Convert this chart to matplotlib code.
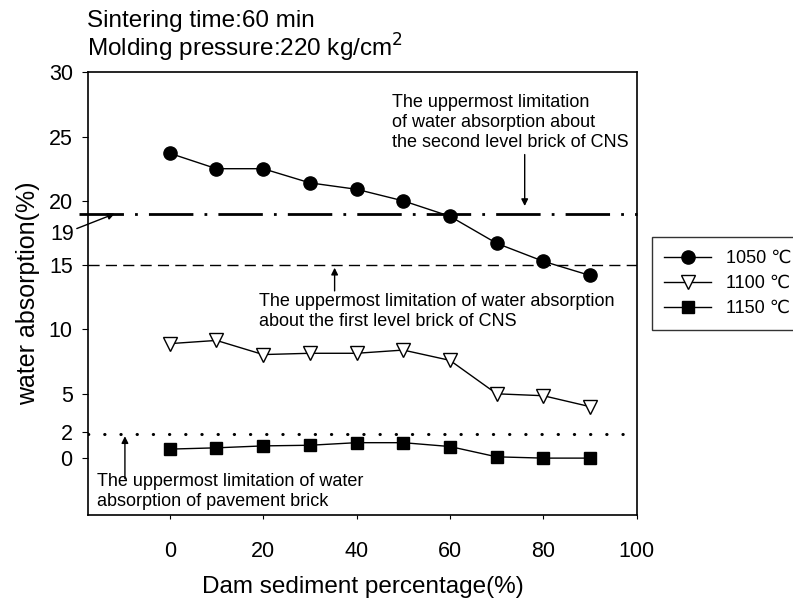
import matplotlib
matplotlib.use('Agg')
import matplotlib.pyplot as plt

plt.rcParams['font.family'] = ['Liberation Sans', 'DejaVu Sans']

# data
sediment = [0, 10, 20, 30, 40, 50, 60, 70, 80, 90]
wa_1050 = [23.7, 22.5, 22.5, 21.4, 20.9, 20.0, 18.8, 16.7, 15.3, 14.2]
wa_1100 = [8.9, 9.15, 8.05, 8.15, 8.15, 8.4, 7.6, 5.0, 4.85, 4.0]
wa_1150 = [0.7, 0.8, 0.95, 1.0, 1.2, 1.2, 0.9, 0.1, 0.0, 0.0]

limit_second = 19
limit_first = 15
limit_pavement = 1.9

ytick_vals = [0, 2, 5, 10, 15, 20, 25, 30]
ytick_labels = ['0', '2', '5', '10', '15', '20', '25', '30']
xtick_vals = [0, 20, 40, 60, 80, 100]

fig = plt.figure(figsize=(7.93, 6.02), dpi=100)
ax = fig.add_axes([0.111, 0.145, 0.692, 0.735])

ax.plot(sediment, wa_1050, '-', color='black', lw=1, marker='o', ms=9.5,
        mfc='black', mec='black', label='1050 ℃')
ax.plot(sediment, wa_1100, '-', color='black', lw=1, marker='v', ms=10,
        mfc='white', mec='black', label='1100 ℃')
ax.plot(sediment, wa_1150, '-', color='black', lw=1, marker='s', ms=8,
        mfc='black', mec='black', label='1150 ℃')

# limitation lines
ax.plot([-19.5, 100], [limit_second, limit_second], color='black', lw=2,
        linestyle=(0, (16, 4, 1, 4)), clip_on=False)
ax.axhline(limit_first, color='black', lw=1, linestyle=(0, (8, 4.5)))
ax.axhline(limit_pavement, color='black', lw=2.2, linestyle=(0, (0.1, 5.2)),
           dash_capstyle='round')

ax.set_xlim(-17.5, 100)
ax.set_ylim(-4.4, 30)
ax.set_xticks(xtick_vals)
ax.set_yticks(ytick_vals)
ax.set_yticklabels(ytick_labels)
ax.tick_params(axis='x', labelsize=15.5, pad=16, length=3, direction='out')
ax.tick_params(axis='y', labelsize=15.5, pad=7, length=4, direction='out')
for s in ax.spines.values():
    s.set_linewidth(1.2)

ax.set_xlabel('Dam sediment percentage(%)', fontsize=17.5, labelpad=10)
ax.set_ylabel('water absorption(%)', fontsize=18, labelpad=6)

fig.text(0.11, 0.965, 'Sintering time:60 min', fontsize=17.5, va='center')
fig.text(0.11, 0.92, 'Molding pressure:220 kg/cm$^2$', fontsize=17.5, va='center')

# "19" label with arrow
ax.annotate('19', xy=(-11.8, 19.0), xytext=(-20.5, 17.4), fontsize=15.5,
            ha='right', va='center', annotation_clip=False,
            arrowprops=dict(arrowstyle='-|>', color='black', lw=1,
                            mutation_scale=10, shrinkA=0, shrinkB=0))

arrow_kw = dict(arrowstyle='-|>', color='black', lw=1, mutation_scale=10,
                shrinkA=0, shrinkB=0)
ax.annotate('', xy=(76, 19.6), xytext=(76, 23.6), arrowprops=arrow_kw)
ax.text(47.5, 26.1, 'The uppermost limitation\nof water absorption about\n'
        'the second level brick of CNS', fontsize=13, ha='left', va='center',
        linespacing=1.2)

ax.annotate('', xy=(35.3, 14.8), xytext=(35.3, 13.0), arrowprops=arrow_kw)
ax.text(19.2, 11.4, 'The uppermost limitation of water absorption\n'
        'about the first level brick of CNS', fontsize=13, ha='left',
        va='center', linespacing=1.2)

ax.annotate('', xy=(-9.6, 1.7), xytext=(-9.6, -1.6), arrowprops=arrow_kw)
ax.text(-15.5, -2.6, 'The uppermost limitation of water\n'
        'absorption of pavement brick', fontsize=13, ha='left', va='center',
        linespacing=1.2)

leg = ax.legend(loc='upper left', bbox_to_anchor=(0.822, 0.606),
                bbox_transform=fig.transFigure, fontsize=13, frameon=True,
                fancybox=False, edgecolor='black', handlelength=2.6,
                borderpad=0.7, labelspacing=0.45, borderaxespad=0)
leg.get_frame().set_linewidth(1)

fig.savefig('out.png', dpi=100)
